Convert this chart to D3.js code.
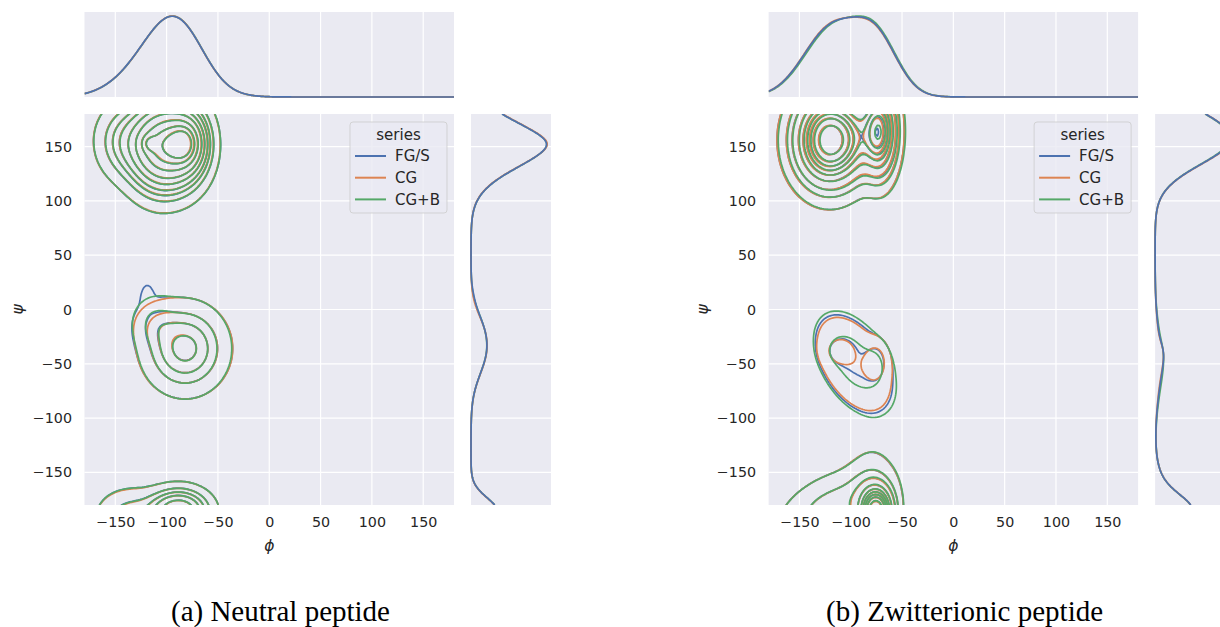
<!DOCTYPE html>
<html>
<head>
<meta charset="utf-8">
<script src="https://cdn.jsdelivr.net/npm/d3@7"></script>
<style>
  body { margin: 0; background: #ffffff; }
  svg { display: block; }
</style>
</head>
<body>
<svg id="fig" width="1220" height="627"></svg>
<script>
// ---------------------------------------------------------------
// Ramachandran (phi, psi) joint density plots, three models each.
// Each series is a smooth density given as Gaussian components:
//   [phi, psi, sdPhi, sdPsi, rho, weight]
// ---------------------------------------------------------------
const seriesNames  = ["FG/S", "CG", "CG+B"];
const seriesColors = ["#4c72b0", "#dd8452", "#55a868"];
const tickValues   = [-150, -100, -50, 0, 50, 100, 150];
const captions     = ["(a) Neutral peptide", "(b) Zwitterionic peptide"];

// Neutral peptide
const neutralFGS = [
  [-80, 153, 10, 14, 0, 0.63],
  [-83, 152, 15, 22, 0, 1.25],
  [-105, 150, 19, 24, 0, 3.85],
  [-117, 153, 5, 5, 0, 0.05],
  [-143, 155, 16, 20, 0, 0.48],
  [-82, -36, 23, 23, 0, 1.35],
  [-112, -12, 14, 14, 0, 0.137],
  [-119, 12, 4, 8, 0, 0.02],
  [-88, -186, 17, 12, 0, 0.98],
  [-135, -190, 20, 15, 0, 0.40]
];
const neutralCG = [
  [-80.5, 153, 10, 14, 0, 0.63],
  [-83.5, 152, 15, 22, 0, 1.27],
  [-105, 150.5, 19, 24, 0, 3.83],
  [-117, 153, 5, 5, 0, 0.06],
  [-143, 155, 16, 20, 0, 0.49],
  [-82, -36, 23, 23, 0, 1.37],
  [-110, -14, 14, 13, 0, 0.11],
  [-88, -186, 17, 12, 0, 0.97],
  [-135, -191, 20, 15, 0, 0.41]
];
const neutralCGB = [
  [-79.5, 153, 10, 14, 0, 0.64],
  [-83, 152, 15, 22, 0, 1.25],
  [-105, 150, 19, 24, 0, 3.85],
  [-117, 153, 5, 5, 0, 0.05],
  [-143, 155, 16, 20, 0, 0.47],
  [-82, -36, 22.5, 23, 0, 1.35],
  [-113, -10, 13, 14, 0, 0.14],
  [-88, -186, 17, 12, 0, 0.98],
  [-135, -190, 20, 15, 0, 0.40]
];

// Zwitterionic peptide
const zwitterFGS = [
  [-121, 156, 19, 24, 0, 5.4],
  [-73, 164, 10, 24, 0, 1.9],
  [-97, 158, 12, 20, 0, 0.32],
  [-97, -50, 24, 29, -0.45, 0.70],
  [-110, -38, 8, 7, 0, 0.05],
  [-75, -48, 7, 11, 0, 0.085],
  [-75, -186, 9, 13, 0, 1.3],
  [-80, -185, 14, 28, 0, 0.62],
  [-118, -182, 30, 20, 0.45, 0.80]
];
const zwitterCG = [
  [-121, 156, 19, 24, 0, 5.5],
  [-73, 164, 10, 24, 0, 1.85],
  [-97, 158, 12, 20, 0, 0.30],
  [-97, -50, 24, 29, -0.45, 0.62],
  [-111, -38, 8, 7, 0, 0.06],
  [-75, -48, 7, 11, 0, 0.10],
  [-75, -186, 9, 13, 0, 1.28],
  [-80, -185, 14, 28, 0, 0.64],
  [-118, -182, 30, 20, 0.45, 0.80]
];
const zwitterCGB = [
  [-120, 156, 19, 24, 0, 5.35],
  [-72, 164, 10, 24, 0, 1.95],
  [-96, 158, 12, 20, 0, 0.34],
  [-96, -50, 24, 29, -0.45, 0.86],
  [-110, -38, 9, 8, 0, 0.035],
  [-75, -50, 8, 12, 0, 0.05],
  [-75, -186, 9, 13, 0, 1.3],
  [-79, -185, 14, 28, 0, 0.64],
  [-118, -182, 30, 20, 0.45, 0.80]
];

const panels = [
  { caption: captions[0], series: [neutralFGS, neutralCG, neutralCGB] },
  { caption: captions[1], series: [zwitterFGS, zwitterCG, zwitterCGB] }
];

// ---------------- layout ----------------
const panelShift = 684.1;
const mainX = [84.5, 454];
const mainY = [505, 114];
const topY  = [97, 12];
const sideX = [471, 551];
const marginalBW = [18, 4];   // extra smoothing of the 1-D marginals (phi, psi)
const nLevels = 10, thresh = 0.05;

const svg = d3.select("#fig");
const inkColor = "#262626";
const bg = "#eaeaf2";

// ---------------- density helpers ----------------
function normalise(comps) {
  const tot = d3.sum(comps, c => c[5]);
  return comps.map(c => [c[0], c[1], c[2], c[3], c[4], c[5] / tot]);
}
function dens2(comps, x, y) {
  let s = 0;
  for (const [mx, my, sx, sy, r, w] of comps) {
    const dx = (x - mx) / sx, dy = (y - my) / sy;
    const q = (dx * dx - 2 * r * dx * dy + dy * dy) / (1 - r * r);
    s += w / (2 * Math.PI * sx * sy * Math.sqrt(1 - r * r)) * Math.exp(-0.5 * q);
  }
  return s;
}
function dens1(comps, v, axis) {
  let s = 0;
  for (const c of comps) {
    const m = c[axis], sd = Math.sqrt(c[axis + 2] ** 2 + marginalBW[axis] ** 2);
    const d = (v - m) / sd;
    s += c[5] / (sd * Math.sqrt(2 * Math.PI)) * Math.exp(-0.5 * d * d);
  }
  return s;
}
// iso-proportion levels (share of mass outside each contour)
function quantileLevels(values) {
  const sorted = Array.from(values).sort((a, b) => b - a);
  const total = d3.sum(sorted);
  const cum = new Float64Array(sorted.length);
  let acc = 0;
  for (let i = 0; i < sorted.length; i++) { acc += sorted[i]; cum[i] = acc / total; }
  const levels = [];
  for (let k = 0; k < nLevels - 1; k++) {
    const p = thresh + k * (1 - thresh) / (nLevels - 1);
    const idx = d3.bisectLeft(cum, 1 - p);
    levels.push(sorted[Math.min(idx, sorted.length - 1)]);
  }
  return levels.sort((a, b) => a - b);
}

const gMin = -260, gMax = 260, gN = 260;
const gStep = (gMax - gMin) / gN;

// ---------------- draw each panel ----------------
panels.forEach((panel, pi) => {
  const off = pi * panelShift;
  const x = d3.scaleLinear().domain([-180, 180]).range([mainX[0] + off, mainX[1] + off]);
  const y = d3.scaleLinear().domain([-180, 180]).range(mainY);
  const g = svg.append("g");

  const clipId = "clip" + pi, clipTop = "clipTop" + pi, clipSide = "clipSide" + pi;
  const defs = svg.append("defs");
  defs.append("clipPath").attr("id", clipId).append("rect")
    .attr("x", x(-180)).attr("y", mainY[1]).attr("width", x(180) - x(-180)).attr("height", mainY[0] - mainY[1]);
  defs.append("clipPath").attr("id", clipTop).append("rect")
    .attr("x", x(-180)).attr("y", topY[1]).attr("width", x(180) - x(-180)).attr("height", topY[0] - topY[1] + 1);
  defs.append("clipPath").attr("id", clipSide).append("rect")
    .attr("x", sideX[0] + off - 1).attr("y", mainY[1]).attr("width", sideX[1] - sideX[0] + 1).attr("height", mainY[0] - mainY[1]);

  // backgrounds
  g.append("rect").attr("x", x(-180)).attr("y", mainY[1]).attr("width", x(180) - x(-180))
    .attr("height", mainY[0] - mainY[1]).attr("fill", bg);
  g.append("rect").attr("x", x(-180)).attr("y", topY[1]).attr("width", x(180) - x(-180))
    .attr("height", topY[0] - topY[1]).attr("fill", bg);
  g.append("rect").attr("x", sideX[0] + off).attr("y", mainY[1]).attr("width", sideX[1] - sideX[0])
    .attr("height", mainY[0] - mainY[1]).attr("fill", bg);

  // grid lines
  const grid = g.append("g").attr("stroke", "#ffffff").attr("stroke-width", 1.2);
  tickValues.forEach(t => {
    grid.append("line").attr("x1", x(t)).attr("x2", x(t)).attr("y1", mainY[1]).attr("y2", mainY[0]);
    grid.append("line").attr("x1", x(t)).attr("x2", x(t)).attr("y1", topY[1]).attr("y2", topY[0]);
    grid.append("line").attr("x1", x(-180)).attr("x2", x(180)).attr("y1", y(t)).attr("y2", y(t));
    grid.append("line").attr("x1", sideX[0] + off).attr("x2", sideX[1] + off).attr("y1", y(t)).attr("y2", y(t));
  });

  // axes (labels only)
  const fmt = d => d3.format("d")(d).replace("-", "\u2212");
  const gx = g.append("g").attr("transform", `translate(0,${mainY[0] + 12})`)
    .call(d3.axisBottom(x).tickValues(tickValues).tickSize(0).tickPadding(0).tickFormat(fmt));
  gx.select(".domain").remove();
  gx.selectAll("text").attr("font-family", "DejaVu Sans").attr("font-size", 14.3).attr("fill", inkColor).attr("dy", "0.71em");

  const gy = g.append("g").attr("transform", `translate(${x(-180) - 12.5},0)`)
    .call(d3.axisLeft(y).tickValues(tickValues).tickSize(0).tickPadding(0).tickFormat(fmt));
  gy.select(".domain").remove();
  gy.selectAll("text").attr("font-family", "DejaVu Sans").attr("font-size", 14.3).attr("fill", inkColor);

  g.append("text").attr("x", x(0)).attr("y", 551).attr("text-anchor", "middle")
    .attr("font-family", "DejaVu Sans").attr("font-style", "italic").attr("font-size", 15.5)
    .attr("fill", inkColor).text("\u03d5");
  g.append("text").attr("transform", `translate(${18 + off},${y(0)}) rotate(-90)`)
    .attr("text-anchor", "middle").attr("dy", "0.35em")
    .attr("font-family", "DejaVu Sans").attr("font-style", "italic").attr("font-size", 15.5)
    .attr("fill", inkColor).text("\u03c8");

  // joint density contours
  const comps = panel.series.map(normalise);
  const proj = d3.geoTransform({
    point: function (cx, cy) {
      this.stream.point(x(gMin + (cx - 0.5) * gStep), y(gMin + (cy - 0.5) * gStep));
    }
  });
  const path = d3.geoPath(proj);

  const cont = g.append("g").attr("clip-path", `url(#${clipId})`);
  comps.forEach((cs, si) => {
    const values = new Float64Array(gN * gN);
    for (let j = 0; j < gN; j++) {
      const ps = gMin + j * gStep;
      for (let i = 0; i < gN; i++) values[j * gN + i] = dens2(cs, gMin + i * gStep, ps);
    }
    const levels = quantileLevels(values);
    const contours = d3.contours().size([gN, gN]).thresholds(levels)(values);
    cont.append("g").selectAll("path").data(contours).join("path")
      .attr("d", path).attr("fill", "none")
      .attr("stroke", seriesColors[si]).attr("stroke-width", 1.7).attr("stroke-linejoin", "round");
  });

  // marginal densities
  const grid1 = d3.range(-180, 180.5, 1);
  const margPhi = comps.map(cs => grid1.map(v => [v, dens1(cs, v, 0)]));
  const margPsi = comps.map(cs => grid1.map(v => [v, dens1(cs, v, 1)]));
  const maxPhi = d3.max(margPhi, s => d3.max(s, d => d[1]));
  const maxPsi = d3.max(margPsi, s => d3.max(s, d => d[1]));
  const yTop = d3.scaleLinear().domain([0, maxPhi * 1.05]).range(topY);
  const xSide = d3.scaleLinear().domain([0, maxPsi * 1.05]).range([sideX[0] + off, sideX[1] + off]);

  const topLine = d3.line().x(d => x(d[0])).y(d => yTop(d[1]));
  const sideLine = d3.line().x(d => xSide(d[1])).y(d => y(d[0]));
  const gt = g.append("g").attr("clip-path", `url(#${clipTop})`);
  const gs = g.append("g").attr("clip-path", `url(#${clipSide})`);
  for (let si = comps.length - 1; si >= 0; si--) {
    gt.append("path").attr("d", topLine(margPhi[si])).attr("fill", "none")
      .attr("stroke", seriesColors[si]).attr("stroke-width", 1.7);
    gs.append("path").attr("d", sideLine(margPsi[si])).attr("fill", "none")
      .attr("stroke", seriesColors[si]).attr("stroke-width", 1.7);
  }

  // legend
  const lg = g.append("g").attr("transform", `translate(${350 + off},122)`);
  lg.append("rect").attr("width", 97).attr("height", 91).attr("rx", 3)
    .attr("fill", "#eaeaf2").attr("fill-opacity", 0.8)
    .attr("stroke", "#cccccc").attr("stroke-opacity", 0.8);
  lg.append("text").attr("x", 48.5).attr("y", 18).attr("text-anchor", "middle")
    .attr("font-family", "DejaVu Sans").attr("font-size", 15).attr("fill", inkColor).text("series");
  seriesNames.forEach((name, si) => {
    const yy = 34 + si * 21.7;
    lg.append("line").attr("x1", 5).attr("x2", 36).attr("y1", yy).attr("y2", yy)
      .attr("stroke", seriesColors[si]).attr("stroke-width", 2);
    lg.append("text").attr("x", 45).attr("y", yy).attr("dy", "0.36em")
      .attr("font-family", "DejaVu Sans").attr("font-size", 15).attr("fill", inkColor).text(name);
  });

  // caption
  svg.append("text").attr("x", 280.5 + off).attr("y", 621).attr("text-anchor", "middle")
    .attr("font-family", "Liberation Serif").attr("font-size", 29).attr("fill", "#000000")
    .text(panel.caption);
});
</script>
</body>
</html>
